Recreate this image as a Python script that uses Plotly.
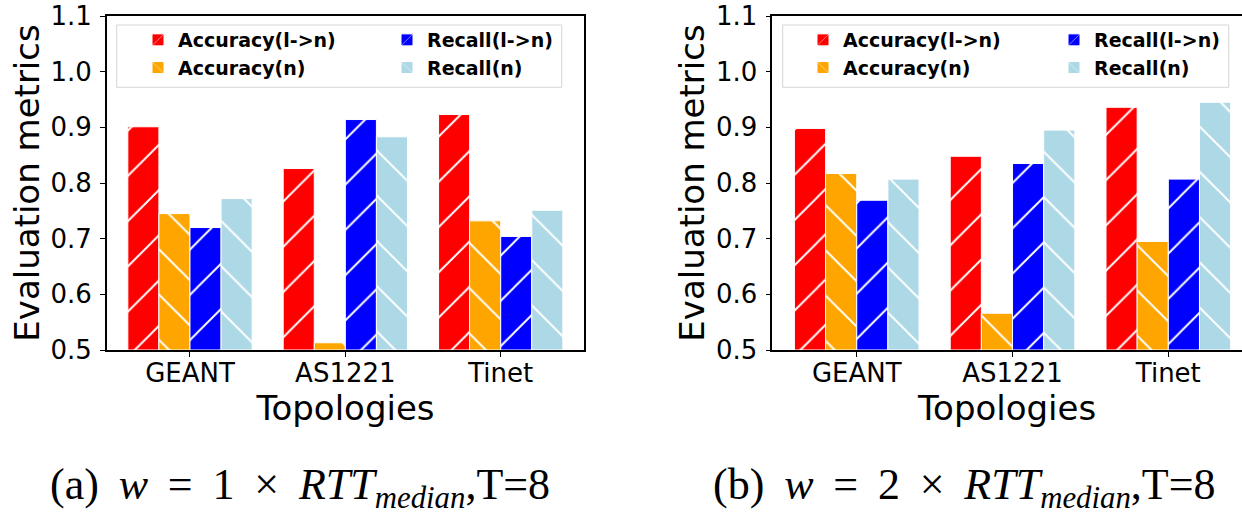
import plotly.graph_objects as go

topologies = ["GEANT", "AS1221", "Tinet"]
series_names = ["Accuracy(l->n)", "Accuracy(n)", "Recall(l->n)", "Recall(n)"]
# panel (a): w = 1 x RTT_median
acc_ln_a = [0.901, 0.826, 0.923]
acc_n_a = [0.745, 0.513, 0.732]
rec_ln_a = [0.720, 0.914, 0.704]
rec_n_a = [0.772, 0.883, 0.751]
# panel (b): w = 2 x RTT_median
acc_ln_b = [0.898, 0.848, 0.936]
acc_n_b = [0.817, 0.566, 0.695]
rec_ln_b = [0.769, 0.835, 0.807]
rec_n_b = [0.807, 0.895, 0.945]
y_ticks = [0.5, 0.6, 0.7, 0.8, 0.9, 1.0, 1.1]

colors = ["#ff0000", "#ffa500", "#0000ff", "#add8e6"]
hatches = ["/", "\\", "/", "\\"]

W, H = 1242, 515
def px_x(p):
    return p / W
def px_y(p):
    return 1 - p / H

fig = go.Figure()

panels = [
    ([acc_ln_a, acc_n_a, rec_ln_a, rec_n_a], "x", "y", ["legend", "legend2"]),
    ([acc_ln_b, acc_n_b, rec_ln_b, rec_n_b], "x2", "y2", ["legend3", "legend4"]),
]
for data, xa, ya, legs in panels:
    for i, (name, vals) in enumerate(zip(series_names, data)):
        fig.add_trace(go.Bar(
            x=topologies, y=[v - 0.5 for v in vals], base=0.5,
            name="<b>" + name + "</b>",
            xaxis=xa, yaxis=ya,
            legend=legs[0] if i in (0, 1) else legs[1],
            legendgroup=xa + str(i),
            marker=dict(color=colors[i], line=dict(color="white", width=1),
                        pattern=dict(shape=hatches[i], fgcolor="white", fgopacity=1,
                                     size=32, solidity=0.06, fillmode="overlay")),
            hoverinfo="skip",
        ))

axis_font = dict(family="DejaVu Sans", size=26, color="#000")
title_font = dict(family="DejaVu Sans", size=34, color="#000")

common_x = dict(type="category", showline=True, linecolor="#000", linewidth=1.5,
                ticks="outside", ticklen=5, tickwidth=1.2, tickcolor="#000",
                tickfont=axis_font, showgrid=False, zeroline=False,
                ticklabelstandoff=-6,
                title=dict(text="Topologies", font=title_font, standoff=0))
common_y = dict(range=[0.5, 1.1], tickvals=y_ticks,
                ticktext=[f"{v:.1f}" for v in y_ticks],
                showline=True, linecolor="#000", linewidth=1.5,
                ticks="outside", ticklen=5, tickwidth=1.2, tickcolor="#000",
                tickfont=axis_font, showgrid=False, zeroline=False,
                ticklabelstandoff=3)

ydom = [px_y(350), px_y(16)]
fig.update_layout(
    width=W, height=H, margin=dict(l=0, r=0, t=0, b=0, autoexpand=False),
    plot_bgcolor="white", paper_bgcolor="white",
    barmode="group", bargap=0.2, bargroupgap=0,
    xaxis=dict(domain=[px_x(106.7), px_x(584.3)], range=[-0.536, 2.538],
               mirror=True, anchor="y", **common_x),
    yaxis=dict(domain=ydom, mirror=True, anchor="x",
               title=dict(text="Evaluation metrics", font=title_font, standoff=0),
               **common_y),
    xaxis2=dict(domain=[px_x(772.3), 1.0], range=[-0.542, 2.473],
                mirror=True, anchor="y2", **common_x),
    yaxis2=dict(domain=ydom, mirror=False, anchor="x2",
                title=dict(text="Evaluation metrics", font=title_font, standoff=1),
                **common_y),
)

leg_font = dict(family="DejaVu Sans", size=19, color="#000")
def leg(xp, yp):
    return dict(x=px_x(xp), y=px_y(yp), xanchor="left", yanchor="top",
                orientation="v", font=leg_font, bgcolor="rgba(0,0,0,0)",
                borderwidth=0, tracegroupgap=0, itemwidth=30)
fig.update_layout(
    legend=leg(138, 21), legend2=leg(387, 21),
    legend3=leg(803, 21), legend4=leg(1054, 21),
)

# legend frames
for x0, x1 in [(116.7, 561.7), (782.7, 1228.7)]:
    fig.add_shape(type="rect", xref="paper", yref="paper",
                  x0=px_x(x0), x1=px_x(x1), y0=px_y(87.3), y1=px_y(25),
                  line=dict(color="#d6d6d6", width=1), fillcolor="rgba(0,0,0,0)",
                  layer="above")

cap_font = dict(family="Liberation Serif", size=44, color="#000")
sp = "&nbsp;"
def caption(lbl, k):
    return (f"({lbl}){sp}\u2009<i>w</i>{sp}\u2009={sp}\u2009{k}{sp}\u2009×{sp}\u2009<i>RTT</i>"
            f"<sub><i>median</i></sub>,T=8")
fig.add_annotation(text=caption("a", 1),
                   x=px_x(299.5), y=px_y(487), xref="paper", yref="paper",
                   showarrow=False, font=cap_font, xanchor="center", yanchor="middle")
fig.add_annotation(text=caption("b", 2),
                   x=px_x(964), y=px_y(487), xref="paper", yref="paper",
                   showarrow=False, font=cap_font, xanchor="center", yanchor="middle")

fig.write_html("out.html", config={"displayModeBar": False},
               post_script="document.body.style.margin='0';")
